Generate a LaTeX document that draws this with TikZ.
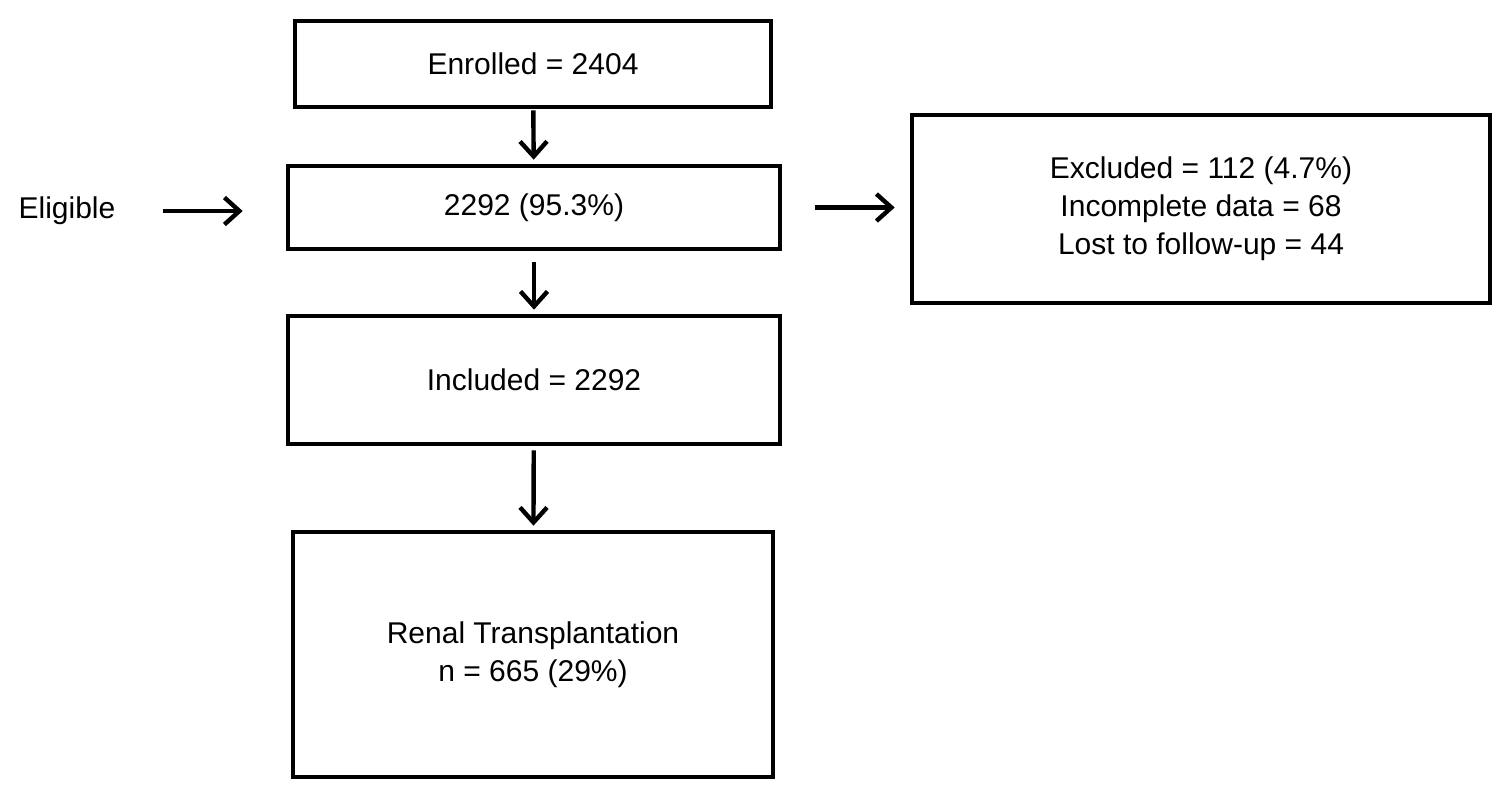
\documentclass[tikz,border=0pt]{standalone}
\usepackage{fontspec}
\setmainfont{Liberation Sans}
\usetikzlibrary{arrows.meta}
\begin{document}
\begin{tikzpicture}[x=0.5pt,y=-0.5pt,
  box/.style={draw,line width=2.3pt,inner sep=0pt,align=center,font=\fontsize{15}{19}\selectfont},
  lbl/.style={inner sep=0pt,font=\fontsize{15}{19}\selectfont},
  arr/.style={line width=2.2pt,-{Straight Barb[length=7.5pt,width=13.5pt,line width=2.2pt]}}]
\useasboundingbox (0,0) rectangle (1500,791);
\node[box,minimum width=238pt,minimum height=43pt] (enr) at (533,64) {Enrolled = 2404};
\node[box,minimum width=246pt,minimum height=41.5pt] (ebox) at (534,207.5) {2292 (95.3\%)};
\node[box,minimum width=246pt,minimum height=64pt] (inc) at (534,380) {Included = 2292};
\node[box,minimum width=240pt,minimum height=122.5pt] (ren) at (533,654.5) {Renal Transplantation\\n = 665 (29\%)};
\node[box,minimum width=289pt,minimum height=94pt] (exc) at (1201,209) {Excluded = 112 (4.7\%)\\Incomplete data = 68\\Lost to follow-up = 44};
\node[lbl] (elig) at (67,211) {Eligible};
\draw[arr,shorten <=0.5pt,shorten >=2pt] (enr) -- (ebox);
\draw[arr,shorten <=5.5pt,shorten >=2pt] (ebox) -- (inc);
\draw[arr,shorten <=2pt,shorten >=2pt] (inc) -- (ren);
\draw[arr,shorten <=23.5pt,shorten >=21.5pt] (elig.east) -- (ebox.west |- elig.east);
\draw[arr,shorten <=16.5pt,shorten >=7.5pt] (ebox.east) -- (exc.west |- ebox.east);
\end{tikzpicture}
\end{document}
